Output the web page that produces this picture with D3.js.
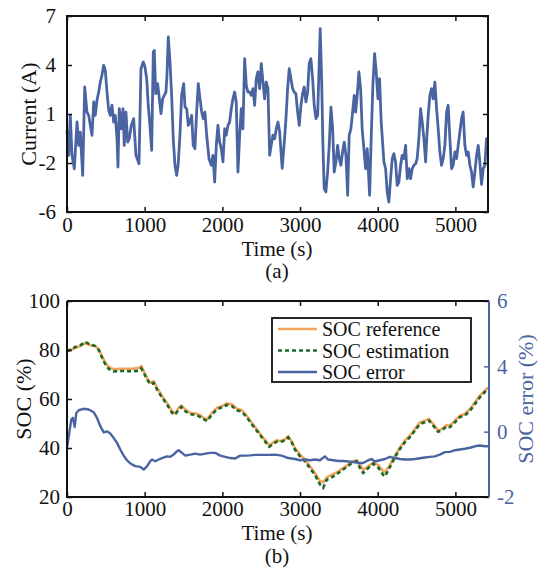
<!DOCTYPE html>
<html><head><meta charset="utf-8">
<script src="https://cdn.jsdelivr.net/npm/d3@7"></script>
<style>body{margin:0;background:#fff} text{font-family:"Liberation Serif","Times New Roman",serif}</style>
</head><body><svg id="c" width="542" height="567"></svg>
<script>
// ---------- data ----------
const currentData = [[0,-0.58],[22,-2.24],[42,0.41],[64,-2.24],[94,-3.13],[129,-0.03],[151,-1.58],[171,-0.70],[202,-3.57],[228,2.29],[257,0.63],[279,0.41],[300,-0.25],[322,-0.91],[344,1.30],[364,0.41],[386,1.41],[408,1.96],[429,2.62],[450,3.07],[472,3.73],[493,3.40],[515,1.96],[537,0.74],[557,0.41],[579,1.08],[601,-0.03],[622,0.41],[644,-1.14],[656,-3.02],[673,0.85],[699,-0.48],[721,0.85],[737,-1.58],[759,0.63],[781,-1.36],[802,-1.14],[828,-0.25],[858,0.19],[888,-2.24],[927,-2.80],[952,3.50],[982,3.95],[1004,3.62],[1026,2.84],[1046,1.08],[1068,-0.25],[1090,-1.91],[1111,4.61],[1124,4.72],[1142,1.85],[1167,2.51],[1184,1.74],[1210,0.52],[1232,1.51],[1252,1.74],[1274,1.96],[1287,3.07],[1304,5.61],[1326,3.95],[1347,1.74],[1368,-1.14],[1390,-2.90],[1412,-3.57],[1432,-2.80],[1454,-0.91],[1476,1.74],[1502,2.51],[1519,0.96],[1541,0.85],[1561,-0.25],[1583,-0.03],[1605,0.41],[1625,-1.58],[1647,-1.80],[1669,0.63],[1690,2.51],[1712,1.51],[1734,0.63],[1754,0.19],[1776,0.63],[1798,-0.91],[1828,-2.46],[1857,-2.90],[1879,-2.24],[1901,-4.01],[1922,-1.58],[1943,-0.25],[1965,-1.36],[1986,-1.80],[2008,-2.68],[2030,-0.48],[2050,-0.91],[2072,-0.25],[2094,-0.03],[2115,0.85],[2136,1.51],[2158,1.96],[2179,1.30],[2201,-3.35],[2223,-0.91],[2243,0.85],[2265,-0.48],[2287,4.17],[2308,2.40],[2329,1.96],[2351,1.96],[2372,1.74],[2394,2.18],[2416,1.08],[2436,2.84],[2458,3.29],[2480,2.18],[2501,3.84],[2523,2.62],[2544,1.51],[2565,2.62],[2587,2.18],[2609,-2.24],[2629,-1.58],[2651,-0.91],[2673,-1.14],[2694,-0.48],[2716,-0.03],[2738,-0.70],[2770,-3.10],[2801,-1.14],[2819,0.19],[2840,2.18],[2861,3.51],[2883,2.84],[2905,2.18],[2925,1.96],[2947,1.85],[2969,0.63],[2990,-0.25],[3012,1.08],[3033,1.85],[3054,2.29],[3076,1.30],[3098,1.96],[3118,3.84],[3140,4.17],[3162,2.84],[3183,1.08],[3205,0.19],[3227,0.41],[3260,6.16],[3278,2.84],[3295,-1.58],[3311,-4.46],[3333,-4.67],[3355,-3.35],[3376,-1.58],[3398,0.96],[3420,-0.48],[3440,-3.35],[3462,-2.68],[3484,-1.58],[3505,-2.46],[3526,-2.90],[3548,-2.02],[3569,-1.36],[3591,-2.24],[3613,-4.89],[3633,-0.91],[3655,-0.48],[3677,0.63],[3698,1.74],[3716,0.63],[3736,1.74],[3758,3.29],[3780,2.18],[3800,-0.48],[3822,-1.80],[3844,-3.13],[3865,-1.80],[3896,-4.89],[3916,-1.14],[3938,2.40],[3960,4.50],[3981,3.29],[4003,1.51],[4024,2.84],[4045,-0.03],[4080,-2.68],[4102,-3.13],[4122,-4.67],[4144,-5.34],[4166,-3.79],[4187,-2.46],[4208,-2.13],[4230,-2.68],[4251,-4.23],[4273,-4.01],[4295,-2.90],[4315,-2.24],[4337,-2.46],[4359,-1.58],[4380,-3.79],[4402,-3.13],[4423,-3.79],[4444,-3.13],[4466,-2.90],[4488,-2.80],[4508,-2.46],[4530,-1.14],[4552,0.85],[4573,-0.03],[4595,-1.14],[4617,-2.68],[4629,-1.36],[4650,0.41],[4672,1.74],[4694,2.18],[4714,1.51],[4736,2.62],[4758,0.85],[4779,-0.48],[4800,-2.02],[4822,-2.90],[4843,-2.46],[4865,-1.58],[4887,0.63],[4907,1.08],[4929,-1.14],[4951,-3.13],[4972,-2.90],[4994,-2.02],[5015,-2.46],[5036,-1.58],[5058,-0.70],[5080,0.19],[5100,0.63],[5122,-1.58],[5144,-2.24],[5165,-2.02],[5187,-2.90],[5208,-3.35],[5229,-4.34],[5251,-3.35],[5273,-2.24],[5294,-1.58],[5315,-2.68],[5337,-4.17],[5358,-3.13],[5380,-2.90],[5401,-1.14],[5414,-1.36]];

const socTime = [0,22,107,171,236,300,364,408,450,493,537,601,665,750,837,922,956,987,1030,1072,1116,1158,1223,1287,1351,1394,1438,1471,1523,1587,1652,1695,1759,1802,1866,1931,1995,2059,2124,2188,2252,2317,2381,2445,2510,2561,2604,2661,2703,2741,2806,2848,2892,2934,2999,3063,3127,3192,3256,3299,3343,3407,3471,3535,3600,3664,3728,3784,3813,3878,3942,4007,4071,4093,4157,4221,4286,4350,4414,4479,4543,4607,4659,4714,4778,4822,4887,4929,4994,5058,5122,5187,5251,5315,5358,5420];
const socReference = [80.0,79.6,80.9,81.6,82.9,81.9,81.6,80.3,77.5,74.8,73.1,72.1,72.3,72.3,72.3,72.7,73.4,71.4,68.6,66.6,67.3,64.6,61.2,58.4,55.0,54.1,56.4,57.4,55.7,54.3,54.1,53.7,52.3,51.6,54.3,56.4,57.1,58.2,57.8,56.0,55.4,53.0,50.2,47.5,44.8,42.8,41.0,42.4,43.2,42.8,43.5,44.8,42.8,40.0,37.3,35.3,32.5,29.8,26.6,26.0,28.0,29.0,30.0,31.4,32.7,34.3,35.0,32.5,31.0,32.5,34.0,33.0,30.5,30.2,33.0,36.8,40.2,43.0,45.0,47.7,50.4,51.1,51.9,49.8,47.1,47.7,49.4,49.1,51.1,53.2,53.9,55.9,58.6,61.4,62.7,64.6];
const socEstimation = [80.0,79.8,81.2,81.9,83.3,82.2,81.6,80.0,77.0,74.2,72.3,71.3,71.4,71.4,71.3,71.5,72.5,70.8,68.0,66.0,66.6,64.0,60.6,57.8,54.4,53.6,55.8,56.8,55.0,53.8,53.5,53.0,51.8,51.0,53.6,55.8,56.6,57.6,57.1,55.4,54.8,52.4,49.6,47.0,44.3,42.2,40.5,41.8,42.6,42.4,43.1,44.3,42.4,39.4,36.6,34.6,31.8,29.0,25.2,23.8,27.0,28.0,29.2,30.8,32.2,33.8,34.6,31.2,29.8,31.8,33.6,32.0,29.0,28.4,32.2,36.2,39.6,42.4,44.4,47.1,49.8,50.5,51.2,49.2,46.6,47.1,48.8,48.5,50.5,52.6,53.3,55.2,57.9,60.7,62.1,64.3];

const errTime = [0,55,77,99,120,151,215,279,344,386,429,472,515,557,601,644,686,730,772,815,879,943,987,1030,1072,1094,1136,1180,1223,1287,1329,1373,1416,1438,1480,1523,1587,1652,1716,1780,1844,1909,1973,2037,2102,2166,2230,2295,2359,2423,2510,2596,2677,2763,2848,2934,2999,3063,3127,3192,3256,3320,3363,3428,3492,3556,3620,3685,3749,3813,3878,3921,3964,4028,4093,4157,4221,4286,4350,4414,4479,4543,4607,4672,4736,4800,4865,4929,4994,5058,5122,5187,5251,5315,5380,5420];
const socError = [0.0,1.16,1.23,0.86,1.43,1.54,1.60,1.57,1.46,1.23,0.89,0.64,0.68,0.59,0.41,0.21,-0.06,-0.31,-0.50,-0.63,-0.74,-0.77,-0.88,-0.75,-0.54,-0.47,-0.54,-0.47,-0.41,-0.34,-0.36,-0.27,-0.13,-0.09,-0.20,-0.31,-0.27,-0.23,-0.27,-0.23,-0.20,-0.20,-0.31,-0.36,-0.41,-0.43,-0.31,-0.31,-0.30,-0.28,-0.28,-0.28,-0.27,-0.31,-0.41,-0.45,-0.50,-0.47,-0.50,-0.47,-0.50,-0.34,-0.47,-0.50,-0.53,-0.53,-0.55,-0.57,-0.61,-0.61,-0.50,-0.45,-0.55,-0.50,-0.45,-0.36,-0.41,-0.45,-0.47,-0.47,-0.45,-0.42,-0.39,-0.36,-0.34,-0.27,-0.17,-0.16,-0.09,-0.06,-0.03,0.01,0.07,0.10,0.07,0.07];

const timeTicks = [0,1000,2000,3000,4000,5000];
const currentTicks = [7,3.75,0.5,-2.75,-6];
const currentTickLabels = ["7","4","1","-2","-6"];
const socTicks = [100,80,60,40,20];
const errTicks = [6,10/3,2/3,-2];
const errTickLabels = ["6","4","0","-2"];
const legendLabels = ["SOC reference","SOC estimation","SOC error"];

// ---------- drawing ----------
const BLUE = "#4a64a2", ORANGE = "#f7a35c", GREEN = "#176a28";
const FONT = "21px";
const svg = d3.select("#c");

const x = d3.scaleLinear().domain([0,5420]).range([67,488]);
const yCur = d3.scaleLinear().domain([-6,7]).range([212,16]);
const ySoc = d3.scaleLinear().domain([20,100]).range([497,301]);
const yErr = d3.scaleLinear().domain([-2,6]).range([497,301]);

function styleAxis(g, color) {
  g.select(".domain").remove();
  g.selectAll("line").attr("stroke", color).attr("stroke-width", 1.5);
  g.selectAll("text").attr("font-size", FONT).attr("fill", color)
    .attr("font-family", '"Liberation Serif","Times New Roman",serif');
}

// ===== Top chart =====
const gTop = svg.append("g");
gTop.append("path").datum(currentData)
  .attr("fill","none").attr("stroke",BLUE).attr("stroke-width",2.8).attr("stroke-linejoin","round")
  .attr("d", d3.line().x(d=>x(d[0])).y(d=>yCur(d[1])));

gTop.append("g").attr("transform","translate(0,212)")
  .call(d3.axisBottom(x).tickValues(timeTicks).tickSizeInner(-5).tickSizeOuter(0).tickPadding(5).tickFormat(d3.format("d")))
  .call(g=>styleAxis(g,"#111"));
gTop.append("g").attr("transform","translate(0,16)")
  .call(d3.axisTop(x).tickValues(timeTicks).tickSizeInner(-5).tickSizeOuter(0).tickFormat(""))
  .call(g=>styleAxis(g,"#111"));
gTop.append("g").attr("transform","translate(67,0)")
  .call(d3.axisLeft(yCur).tickValues(currentTicks).tickSizeInner(-5).tickSizeOuter(0).tickPadding(11).tickFormat((d,i)=>currentTickLabels[i]))
  .call(g=>styleAxis(g,"#111"));
gTop.append("g").attr("transform","translate(488,0)")
  .call(d3.axisRight(yCur).tickValues(currentTicks).tickSizeInner(-5).tickSizeOuter(0).tickFormat(""))
  .call(g=>styleAxis(g,"#111"));
gTop.append("rect").attr("x",67).attr("y",16).attr("width",421).attr("height",196)
  .attr("fill","none").attr("stroke","#111").attr("stroke-width",2);

gTop.append("text").attr("transform","translate(36,114) rotate(-90)").attr("text-anchor","middle")
  .attr("font-size","22px").attr("fill","#111").text("Current (A)");
gTop.append("text").attr("x",277).attr("y",256).attr("text-anchor","middle")
  .attr("font-size","21px").attr("fill","#111").text("Time (s)");
gTop.append("text").attr("x",277).attr("y",278).attr("text-anchor","middle")
  .attr("font-size","21px").attr("fill","#111").text("(a)");

// ===== Bottom chart =====
const gBot = svg.append("g");
const refData = socTime.map((t,i)=>[t, socReference[i]]);
const estData = socTime.map((t,i)=>[t, socEstimation[i]]);
const errData = errTime.map((t,i)=>[t, socError[i]]);

gBot.append("path").datum(refData)
  .attr("fill","none").attr("stroke",ORANGE).attr("stroke-width",2.6).attr("stroke-linejoin","round")
  .attr("d", d3.line().x(d=>x(d[0])).y(d=>ySoc(d[1])));
gBot.append("path").datum(estData)
  .attr("fill","none").attr("stroke",GREEN).attr("stroke-width",2.6).attr("stroke-dasharray","4,3")
  .attr("d", d3.line().x(d=>x(d[0])).y(d=>ySoc(d[1])));
gBot.append("path").datum(errData)
  .attr("fill","none").attr("stroke",BLUE).attr("stroke-width",2.4).attr("stroke-linejoin","round")
  .attr("d", d3.line().x(d=>x(d[0])).y(d=>yErr(d[1])));

gBot.append("g").attr("transform","translate(0,497)")
  .call(d3.axisBottom(x).tickValues(timeTicks).tickSizeInner(-5).tickSizeOuter(0).tickPadding(4).tickFormat(d3.format("d")))
  .call(g=>styleAxis(g,"#111"));
gBot.append("g").attr("transform","translate(0,301)")
  .call(d3.axisTop(x).tickValues(timeTicks).tickSizeInner(-5).tickSizeOuter(0).tickFormat(""))
  .call(g=>styleAxis(g,"#111"));
gBot.append("g").attr("transform","translate(67,0)")
  .call(d3.axisLeft(ySoc).tickValues(socTicks).tickSizeInner(-5).tickSizeOuter(0).tickPadding(7).tickFormat(d3.format("d")))
  .call(g=>styleAxis(g,"#111"));
gBot.append("g").attr("transform","translate(489,0)")
  .call(d3.axisRight(yErr).tickValues(errTicks).tickSizeInner(-5).tickSizeOuter(0).tickPadding(8).tickFormat((d,i)=>errTickLabels[i]))
  .call(g=>styleAxis(g,BLUE));
gBot.append("path").attr("d","M67,301V497H489").attr("fill","none").attr("stroke","#111").attr("stroke-width",2);
gBot.append("path").attr("d","M67,301H489").attr("fill","none").attr("stroke","#111").attr("stroke-width",2);
gBot.append("path").attr("d","M489,301V497").attr("fill","none").attr("stroke",BLUE).attr("stroke-width",2);

gBot.append("text").attr("transform","translate(31,399) rotate(-90)").attr("text-anchor","middle")
  .attr("font-size","22px").attr("fill","#111").text("SOC (%)");
gBot.append("text").attr("transform","translate(533,399) rotate(-90)").attr("text-anchor","middle")
  .attr("font-size","22px").attr("fill",BLUE).text("SOC error (%)");
gBot.append("text").attr("x",277).attr("y",539.5).attr("text-anchor","middle")
  .attr("font-size","21px").attr("fill","#111").text("Time (s)");
gBot.append("text").attr("x",277).attr("y",563).attr("text-anchor","middle")
  .attr("font-size","21px").attr("fill","#111").text("(b)");

// legend
const leg = gBot.append("g");
leg.append("rect").attr("x",272).attr("y",318).attr("width",199).attr("height",64)
  .attr("fill","#fff").attr("stroke","#111").attr("stroke-width",1.8);
const legStyles = [{c:ORANGE,dash:null},{c:GREEN,dash:"4,3"},{c:BLUE,dash:null}];
legendLabels.forEach((lab,i)=>{
  const cy = 329 + i*21.5;
  leg.append("line").attr("x1",278).attr("x2",317).attr("y1",cy).attr("y2",cy)
    .attr("stroke",legStyles[i].c).attr("stroke-width",2.6)
    .attr("stroke-dasharray",legStyles[i].dash);
  leg.append("text").attr("x",322).attr("y",cy+7).attr("font-size","20px").attr("fill","#111").text(lab);
});
</script></body></html>
